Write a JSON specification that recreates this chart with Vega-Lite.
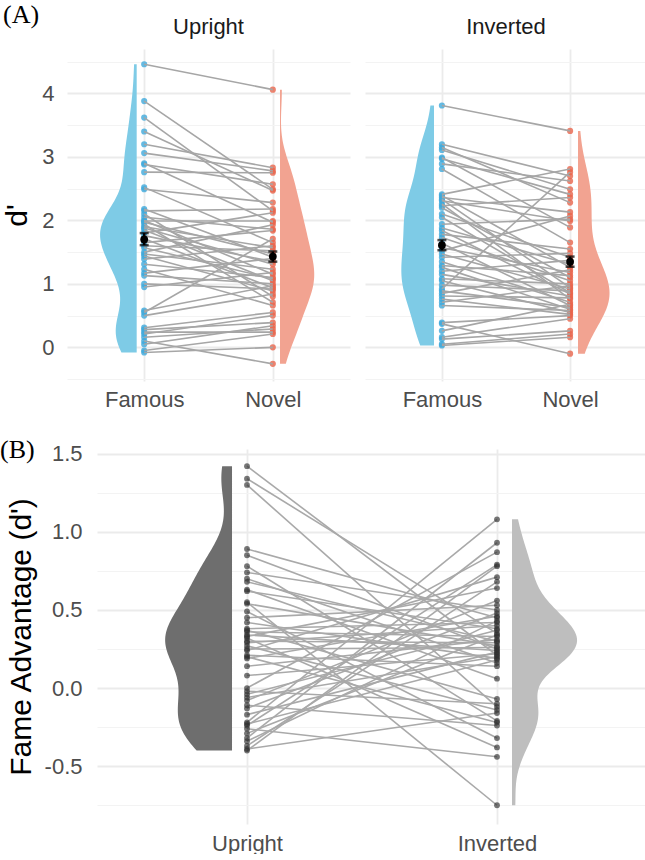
{
"$schema": "https://vega.github.io/schema/vega-lite/v6.json",
"padding": {"left": 0, "top": 2, "right": 0, "bottom": 0},
"config": {"view": {"stroke": null}, "font": "Liberation Sans", "axis": {"domain": false, "ticks": false, "tickSize": 0}},
"datasets": {
"S": [
{"o":"U","c":"Famous","m":1.70,"lo":1.61,"hi":1.80},
{"o":"U","c":"Novel","m":1.43,"lo":1.35,"hi":1.51},
{"o":"I","c":"Famous","m":1.61,"lo":1.53,"hi":1.69},
{"o":"I","c":"Novel","m":1.35,"lo":1.27,"hi":1.43}
],
"A": [
{"s":1,"o":"U","c":"Famous","v":4.46},{"s":1,"o":"U","c":"Novel","v":4.06},
{"s":2,"o":"U","c":"Famous","v":3.88},{"s":2,"o":"U","c":"Novel","v":2.49},
{"s":3,"o":"U","c":"Famous","v":3.62},{"s":3,"o":"U","c":"Novel","v":2.15},
{"s":4,"o":"U","c":"Famous","v":3.40},{"s":4,"o":"U","c":"Novel","v":2.47},
{"s":5,"o":"U","c":"Famous","v":3.20},{"s":5,"o":"U","c":"Novel","v":2.83},
{"s":6,"o":"U","c":"Famous","v":3.06},{"s":6,"o":"U","c":"Novel","v":2.78},
{"s":7,"o":"U","c":"Famous","v":2.90},{"s":7,"o":"U","c":"Novel","v":1.97},
{"s":8,"o":"U","c":"Famous","v":2.88},{"s":8,"o":"U","c":"Novel","v":2.57},
{"s":9,"o":"U","c":"Famous","v":2.76},{"s":9,"o":"U","c":"Novel","v":2.75},
{"s":10,"o":"U","c":"Famous","v":2.52},{"s":10,"o":"U","c":"Novel","v":1.65},
{"s":11,"o":"U","c":"Famous","v":2.49},{"s":11,"o":"U","c":"Novel","v":2.28},
{"s":12,"o":"U","c":"Famous","v":2.18},{"s":12,"o":"U","c":"Novel","v":1.42},
{"s":13,"o":"U","c":"Famous","v":2.15},{"s":13,"o":"U","c":"Novel","v":2.18},
{"s":14,"o":"U","c":"Famous","v":2.10},{"s":14,"o":"U","c":"Novel","v":0.80},
{"s":15,"o":"U","c":"Famous","v":2.05},{"s":15,"o":"U","c":"Novel","v":1.86},
{"s":16,"o":"U","c":"Famous","v":2.00},{"s":16,"o":"U","c":"Novel","v":1.15},
{"s":17,"o":"U","c":"Famous","v":1.99},{"s":17,"o":"U","c":"Novel","v":1.99},
{"s":18,"o":"U","c":"Famous","v":1.97},{"s":18,"o":"U","c":"Novel","v":1.47},
{"s":19,"o":"U","c":"Famous","v":1.94},{"s":19,"o":"U","c":"Novel","v":0.71},
{"s":20,"o":"U","c":"Famous","v":1.90},{"s":20,"o":"U","c":"Novel","v":1.57},
{"s":21,"o":"U","c":"Famous","v":1.88},{"s":21,"o":"U","c":"Novel","v":1.31},
{"s":22,"o":"U","c":"Famous","v":1.85},{"s":22,"o":"U","c":"Novel","v":1.05},
{"s":23,"o":"U","c":"Famous","v":1.80},{"s":23,"o":"U","c":"Novel","v":2.12},
{"s":24,"o":"U","c":"Famous","v":1.76},{"s":24,"o":"U","c":"Novel","v":1.35},
{"s":25,"o":"U","c":"Famous","v":1.71},{"s":25,"o":"U","c":"Novel","v":0.94},
{"s":26,"o":"U","c":"Famous","v":1.65},{"s":26,"o":"U","c":"Novel","v":1.84},
{"s":27,"o":"U","c":"Famous","v":1.60},{"s":27,"o":"U","c":"Novel","v":1.52},
{"s":28,"o":"U","c":"Famous","v":1.57},{"s":28,"o":"U","c":"Novel","v":1.08},
{"s":29,"o":"U","c":"Famous","v":1.50},{"s":29,"o":"U","c":"Novel","v":1.93},
{"s":30,"o":"U","c":"Famous","v":1.47},{"s":30,"o":"U","c":"Novel","v":1.23},
{"s":31,"o":"U","c":"Famous","v":1.44},{"s":31,"o":"U","c":"Novel","v":0.89},
{"s":32,"o":"U","c":"Famous","v":1.39},{"s":32,"o":"U","c":"Novel","v":1.60},
{"s":33,"o":"U","c":"Famous","v":1.31},{"s":33,"o":"U","c":"Novel","v":1.10},
{"s":34,"o":"U","c":"Famous","v":1.23},{"s":34,"o":"U","c":"Novel","v":0.66},
{"s":35,"o":"U","c":"Famous","v":1.17},{"s":35,"o":"U","c":"Novel","v":1.40},
{"s":36,"o":"U","c":"Famous","v":1.13},{"s":36,"o":"U","c":"Novel","v":1.00},
{"s":37,"o":"U","c":"Famous","v":1.00},{"s":37,"o":"U","c":"Novel","v":0.92},
{"s":38,"o":"U","c":"Famous","v":0.95},{"s":38,"o":"U","c":"Novel","v":1.18},
{"s":39,"o":"U","c":"Famous","v":0.58},{"s":39,"o":"U","c":"Novel","v":0.97},
{"s":40,"o":"U","c":"Famous","v":0.55},{"s":40,"o":"U","c":"Novel","v":1.71},
{"s":41,"o":"U","c":"Famous","v":0.50},{"s":41,"o":"U","c":"Novel","v":0.84},
{"s":42,"o":"U","c":"Famous","v":0.31},{"s":42,"o":"U","c":"Novel","v":0.55},
{"s":43,"o":"U","c":"Famous","v":0.28},{"s":43,"o":"U","c":"Novel","v":0.39},
{"s":44,"o":"U","c":"Famous","v":0.24},{"s":44,"o":"U","c":"Novel","v":0.24},
{"s":45,"o":"U","c":"Famous","v":0.21},{"s":45,"o":"U","c":"Novel","v":0.50},
{"s":46,"o":"U","c":"Famous","v":0.16},{"s":46,"o":"U","c":"Novel","v":0.29},
{"s":47,"o":"U","c":"Famous","v":0.10},{"s":47,"o":"U","c":"Novel","v":-0.26},
{"s":48,"o":"U","c":"Famous","v":0.05},{"s":48,"o":"U","c":"Novel","v":0.34},
{"s":49,"o":"U","c":"Famous","v":-0.05},{"s":49,"o":"U","c":"Novel","v":0.21},
{"s":50,"o":"U","c":"Famous","v":-0.08},{"s":50,"o":"U","c":"Novel","v":0.00},
{"s":1,"o":"I","c":"Famous","v":3.81},{"s":1,"o":"I","c":"Novel","v":3.41},
{"s":2,"o":"I","c":"Famous","v":3.20},{"s":2,"o":"I","c":"Novel","v":2.70},
{"s":3,"o":"I","c":"Famous","v":3.15},{"s":3,"o":"I","c":"Novel","v":2.28},
{"s":4,"o":"I","c":"Famous","v":3.11},{"s":4,"o":"I","c":"Novel","v":2.49},
{"s":5,"o":"I","c":"Famous","v":2.99},{"s":5,"o":"I","c":"Novel","v":1.89},
{"s":6,"o":"I","c":"Famous","v":2.97},{"s":6,"o":"I","c":"Novel","v":2.41},
{"s":7,"o":"I","c":"Famous","v":2.89},{"s":7,"o":"I","c":"Novel","v":2.62},
{"s":8,"o":"I","c":"Famous","v":2.81},{"s":8,"o":"I","c":"Novel","v":1.65},
{"s":9,"o":"I","c":"Famous","v":2.41},{"s":9,"o":"I","c":"Novel","v":2.81},
{"s":10,"o":"I","c":"Famous","v":2.39},{"s":10,"o":"I","c":"Novel","v":1.26},
{"s":11,"o":"I","c":"Famous","v":2.36},{"s":11,"o":"I","c":"Novel","v":2.13},
{"s":12,"o":"I","c":"Famous","v":2.33},{"s":12,"o":"I","c":"Novel","v":0.94},
{"s":13,"o":"I","c":"Famous","v":2.31},{"s":13,"o":"I","c":"Novel","v":1.99},
{"s":14,"o":"I","c":"Famous","v":2.26},{"s":14,"o":"I","c":"Novel","v":0.76},
{"s":15,"o":"I","c":"Famous","v":2.23},{"s":15,"o":"I","c":"Novel","v":2.36},
{"s":16,"o":"I","c":"Famous","v":2.20},{"s":16,"o":"I","c":"Novel","v":1.10},
{"s":17,"o":"I","c":"Famous","v":2.10},{"s":17,"o":"I","c":"Novel","v":1.42},
{"s":18,"o":"I","c":"Famous","v":2.05},{"s":18,"o":"I","c":"Novel","v":0.86},
{"s":19,"o":"I","c":"Famous","v":1.94},{"s":19,"o":"I","c":"Novel","v":2.02},
{"s":20,"o":"I","c":"Famous","v":1.88},{"s":20,"o":"I","c":"Novel","v":1.31},
{"s":21,"o":"I","c":"Famous","v":1.84},{"s":21,"o":"I","c":"Novel","v":0.84},
{"s":22,"o":"I","c":"Famous","v":1.78},{"s":22,"o":"I","c":"Novel","v":1.55},
{"s":23,"o":"I","c":"Famous","v":1.73},{"s":23,"o":"I","c":"Novel","v":1.05},
{"s":24,"o":"I","c":"Famous","v":1.64},{"s":24,"o":"I","c":"Novel","v":0.66},
{"s":25,"o":"I","c":"Famous","v":1.57},{"s":25,"o":"I","c":"Novel","v":1.18},
{"s":26,"o":"I","c":"Famous","v":1.52},{"s":26,"o":"I","c":"Novel","v":2.07},
{"s":27,"o":"I","c":"Famous","v":1.47},{"s":27,"o":"I","c":"Novel","v":0.92},
{"s":28,"o":"I","c":"Famous","v":1.42},{"s":28,"o":"I","c":"Novel","v":1.48},
{"s":29,"o":"I","c":"Famous","v":1.35},{"s":29,"o":"I","c":"Novel","v":0.71},
{"s":30,"o":"I","c":"Famous","v":1.29},{"s":30,"o":"I","c":"Novel","v":1.13},
{"s":31,"o":"I","c":"Famous","v":1.26},{"s":31,"o":"I","c":"Novel","v":0.60},
{"s":32,"o":"I","c":"Famous","v":1.20},{"s":32,"o":"I","c":"Novel","v":1.37},
{"s":33,"o":"I","c":"Famous","v":1.15},{"s":33,"o":"I","c":"Novel","v":0.81},
{"s":34,"o":"I","c":"Famous","v":1.08},{"s":34,"o":"I","c":"Novel","v":1.00},
{"s":35,"o":"I","c":"Famous","v":1.05},{"s":35,"o":"I","c":"Novel","v":0.55},
{"s":36,"o":"I","c":"Famous","v":0.98},{"s":36,"o":"I","c":"Novel","v":0.89},
{"s":37,"o":"I","c":"Famous","v":0.92},{"s":37,"o":"I","c":"Novel","v":2.76},
{"s":38,"o":"I","c":"Famous","v":0.89},{"s":38,"o":"I","c":"Novel","v":0.63},
{"s":39,"o":"I","c":"Famous","v":0.85},{"s":39,"o":"I","c":"Novel","v":1.22},
{"s":40,"o":"I","c":"Famous","v":0.81},{"s":40,"o":"I","c":"Novel","v":0.78},
{"s":41,"o":"I","c":"Famous","v":0.76},{"s":41,"o":"I","c":"Novel","v":0.52},
{"s":42,"o":"I","c":"Famous","v":0.71},{"s":42,"o":"I","c":"Novel","v":0.97},
{"s":43,"o":"I","c":"Famous","v":0.66},{"s":43,"o":"I","c":"Novel","v":0.58},
{"s":44,"o":"I","c":"Famous","v":0.39},{"s":44,"o":"I","c":"Novel","v":0.50},
{"s":45,"o":"I","c":"Famous","v":0.37},{"s":45,"o":"I","c":"Novel","v":-0.10},
{"s":46,"o":"I","c":"Famous","v":0.26},{"s":46,"o":"I","c":"Novel","v":0.68},
{"s":47,"o":"I","c":"Famous","v":0.16},{"s":47,"o":"I","c":"Novel","v":0.45},
{"s":48,"o":"I","c":"Famous","v":0.13},{"s":48,"o":"I","c":"Novel","v":0.26},
{"s":49,"o":"I","c":"Famous","v":0.05},{"s":49,"o":"I","c":"Novel","v":0.21},
{"s":50,"o":"I","c":"Famous","v":0.03},{"s":50,"o":"I","c":"Novel","v":0.16}
],
"B": [
{"s":1,"o":"Upright","v":1.42},{"s":1,"o":"Inverted","v":0.21},
{"s":2,"o":"Upright","v":1.34},{"s":2,"o":"Inverted","v":0.35},
{"s":3,"o":"Upright","v":1.30},{"s":3,"o":"Inverted","v":-0.12},
{"s":4,"o":"Upright","v":0.89},{"s":4,"o":"Inverted","v":0.45},
{"s":5,"o":"Upright","v":0.85},{"s":5,"o":"Inverted","v":0.25},
{"s":6,"o":"Upright","v":0.78},{"s":6,"o":"Inverted","v":-0.21},
{"s":7,"o":"Upright","v":0.74},{"s":7,"o":"Inverted","v":0.50},
{"s":8,"o":"Upright","v":0.70},{"s":8,"o":"Inverted","v":0.16},
{"s":9,"o":"Upright","v":0.68},{"s":9,"o":"Inverted","v":0.30},
{"s":10,"o":"Upright","v":0.63},{"s":10,"o":"Inverted","v":0.06},
{"s":11,"o":"Upright","v":0.62},{"s":11,"o":"Inverted","v":0.38},
{"s":12,"o":"Upright","v":0.55},{"s":12,"o":"Inverted","v":-0.75},
{"s":13,"o":"Upright","v":0.54},{"s":13,"o":"Inverted","v":0.27},
{"s":14,"o":"Upright","v":0.49},{"s":14,"o":"Inverted","v":-0.32},
{"s":15,"o":"Upright","v":0.45},{"s":15,"o":"Inverted","v":0.53},
{"s":16,"o":"Upright","v":0.42},{"s":16,"o":"Inverted","v":0.19},
{"s":17,"o":"Upright","v":0.38},{"s":17,"o":"Inverted","v":0.42},
{"s":18,"o":"Upright","v":0.37},{"s":18,"o":"Inverted","v":-0.07},
{"s":19,"o":"Upright","v":0.36},{"s":19,"o":"Inverted","v":0.33},
{"s":20,"o":"Upright","v":0.34},{"s":20,"o":"Inverted","v":0.24},
{"s":21,"o":"Upright","v":0.33},{"s":21,"o":"Inverted","v":0.64},
{"s":22,"o":"Upright","v":0.32},{"s":22,"o":"Inverted","v":-0.38},
{"s":23,"o":"Upright","v":0.30},{"s":23,"o":"Inverted","v":0.29},
{"s":24,"o":"Upright","v":0.29},{"s":24,"o":"Inverted","v":0.40},
{"s":25,"o":"Upright","v":0.27},{"s":25,"o":"Inverted","v":-0.14},
{"s":26,"o":"Upright","v":0.25},{"s":26,"o":"Inverted","v":0.26},
{"s":27,"o":"Upright","v":0.24},{"s":27,"o":"Inverted","v":0.71},
{"s":28,"o":"Upright","v":0.21},{"s":28,"o":"Inverted","v":0.14},
{"s":29,"o":"Upright","v":0.20},{"s":29,"o":"Inverted","v":-0.22},
{"s":30,"o":"Upright","v":0.19},{"s":30,"o":"Inverted","v":0.46},
{"s":31,"o":"Upright","v":0.14},{"s":31,"o":"Inverted","v":0.31},
{"s":32,"o":"Upright","v":0.08},{"s":32,"o":"Inverted","v":0.22},
{"s":33,"o":"Upright","v":0.00},{"s":33,"o":"Inverted","v":0.87},
{"s":34,"o":"Upright","v":-0.02},{"s":34,"o":"Inverted","v":-0.10},
{"s":35,"o":"Upright","v":-0.04},{"s":35,"o":"Inverted","v":0.37},
{"s":36,"o":"Upright","v":-0.06},{"s":36,"o":"Inverted","v":0.20},
{"s":37,"o":"Upright","v":-0.08},{"s":37,"o":"Inverted","v":0.56},
{"s":38,"o":"Upright","v":-0.11},{"s":38,"o":"Inverted","v":-0.24},
{"s":39,"o":"Upright","v":-0.13},{"s":39,"o":"Inverted","v":0.48},
{"s":40,"o":"Upright","v":-0.17},{"s":40,"o":"Inverted","v":0.23},
{"s":41,"o":"Upright","v":-0.22},{"s":41,"o":"Inverted","v":1.08},
{"s":42,"o":"Upright","v":-0.23},{"s":42,"o":"Inverted","v":0.18},
{"s":43,"o":"Upright","v":-0.24},{"s":43,"o":"Inverted","v":0.79},
{"s":44,"o":"Upright","v":-0.26},{"s":44,"o":"Inverted","v":-0.44},
{"s":45,"o":"Upright","v":-0.29},{"s":45,"o":"Inverted","v":0.34},
{"s":46,"o":"Upright","v":-0.32},{"s":46,"o":"Inverted","v":0.93},
{"s":47,"o":"Upright","v":-0.34},{"s":47,"o":"Inverted","v":0.43},
{"s":48,"o":"Upright","v":-0.37},{"s":48,"o":"Inverted","v":0.68},
{"s":49,"o":"Upright","v":-0.39},{"s":49,"o":"Inverted","v":-0.16},
{"s":50,"o":"Upright","v":-0.40},{"s":50,"o":"Inverted","v":0.78}
]
},
"spacing": 26,
"vconcat": [
{
"title": {"text": "(A)", "anchor": "start", "frame": "bounds", "font": "Liberation Serif", "fontSize": 26, "fontWeight": "normal", "color": "#000000", "offset": -12, "dx": 1},
"spacing": 15,
"hconcat": [
{
"width": 283, "height": 332,
"title": {"text": "Upright", "fontSize": 22, "fontWeight": "normal", "color": "#1A1A1A", "offset": 10},
"data": {"name": "A"},
"encoding": {"y": {"field": "v", "type": "quantitative", "scale": {"domain": [-0.53, 4.7], "nice": false, "zero": false},
  "axis": {"title": "d'", "titleFontSize": 30, "titleFontWeight": "normal", "titleColor": "#000000", "titlePadding": 10, "labelFontSize": 22, "labelPadding": 13, "labelColor": "#4D4D4D", "minExtent": 25, "maxExtent": 25, "values": [-0.5,0,0.5,1,1.5,2,2.5,3,3.5,4,4.5], "labelExpr": "datum.value % 1 === 0 ? format(datum.value, '.0f') : ''", "gridColor": {"condition": {"test": "datum.value % 1 !== 0", "value": "#F3F3F3"}, "value": "#EBEBEB"}, "gridWidth": {"condition": {"test": "datum.value % 1 !== 0", "value": 1}, "value": 1.8}}}},
"layer": [
{"transform": [{"filter": "datum.o === 'U' && datum.c === 'Famous'"}, {"density": "v", "bandwidth": 0.33, "steps": 120, "as": ["v", "dens"]}],
 "mark": {"type": "area", "orient": "horizontal", "color": "#7ECBE6"},
 "encoding": {"x": {"field": "dens", "type": "quantitative", "scale": {"domain": [-2.51, 0.82], "reverse": true, "nice": false, "zero": false}, "axis": null}}},
{"transform": [{"filter": "datum.o === 'U' && datum.c === 'Novel'"}, {"density": "v", "bandwidth": 0.33, "steps": 120, "as": ["v", "dens"]}],
 "mark": {"type": "area", "orient": "horizontal", "color": "#F2A391"},
 "encoding": {"x": {"field": "dens", "type": "quantitative", "scale": {"domain": [-2.80, 0.92], "nice": false, "zero": false}, "axis": null}}},
{"transform": [{"filter": "datum.o === 'U'"}],
 "encoding": {"x": {"field": "c", "type": "nominal", "scale": {"type": "point", "padding": 0.6, "domain": ["Famous", "Novel"]}, "axis": {"title": null, "grid": true, "gridColor": "#EBEBEB", "gridWidth": 1.8, "labelAngle": 0, "labelFontSize": 22, "labelColor": "#4D4D4D", "labelPadding": 8}}},
 "layer": [
  {"mark": {"type": "circle", "size": 38, "opacity": 0.8}, "encoding": {"color": {"field": "c", "type": "nominal", "scale": {"domain": ["Famous", "Novel"], "range": ["#3FA9DB", "#E8654C"]}, "legend": null}}},
  {"mark": {"type": "line", "color": "#A6A6A6", "strokeWidth": 1.6}, "encoding": {"detail": {"field": "s", "type": "nominal"}}},
  {"data": {"name": "S"}, "transform": [{"filter": "datum.o === 'U'"}], "mark": {"type": "errorbar", "color": "#000000", "thickness": 2.5, "ticks": {"size": 9, "thickness": 2.5, "color": "#000000"}},
   "encoding": {"y": {"field": "lo", "type": "quantitative", "title": "d'", "scale": {"domain": [-0.53, 4.7], "nice": false, "zero": false}}, "y2": {"field": "hi"}}},
  {"data": {"name": "S"}, "transform": [{"filter": "datum.o === 'U'"}], "mark": {"type": "point", "filled": true, "shape": "circle", "size": 60, "color": "#000000", "opacity": 1},
   "encoding": {"y": {"field": "m", "type": "quantitative", "title": "d'", "scale": {"domain": [-0.53, 4.7], "nice": false, "zero": false}}}}
 ]}
],
"resolve": {"scale": {"x": "independent"}}
},
{
"width": 282, "height": 332,
"title": {"text": "Inverted", "fontSize": 22, "fontWeight": "normal", "color": "#1A1A1A", "offset": 10},
"data": {"name": "A"},
"encoding": {"y": {"field": "v", "type": "quantitative", "scale": {"domain": [-0.53, 4.7], "nice": false, "zero": false},
  "axis": {"title": null, "labels": false, "labelPadding": 0, "minExtent": 0, "maxExtent": 0, "values": [-0.5,0,0.5,1,1.5,2,2.5,3,3.5,4,4.5], "gridColor": {"condition": {"test": "datum.value % 1 !== 0", "value": "#F3F3F3"}, "value": "#EBEBEB"}, "gridWidth": {"condition": {"test": "datum.value % 1 !== 0", "value": 1}, "value": 1.8}}}},
"layer": [
{"transform": [{"filter": "datum.o === 'I' && datum.c === 'Famous'"}, {"density": "v", "bandwidth": 0.36, "steps": 120, "as": ["v", "dens"]}],
 "mark": {"type": "area", "orient": "horizontal", "color": "#7ECBE6"},
 "encoding": {"x": {"field": "dens", "type": "quantitative", "scale": {"domain": [-2.34, 0.758], "reverse": true, "nice": false, "zero": false}, "axis": null}}},
{"transform": [{"filter": "datum.o === 'I' && datum.c === 'Novel'"}, {"density": "v", "bandwidth": 0.36, "steps": 120, "as": ["v", "dens"]}],
 "mark": {"type": "area", "orient": "horizontal", "color": "#F2A391"},
 "encoding": {"x": {"field": "dens", "type": "quantitative", "scale": {"domain": [-3.55, 1.15], "nice": false, "zero": false}, "axis": null}}},
{"transform": [{"filter": "datum.o === 'I'"}],
 "encoding": {"x": {"field": "c", "type": "nominal", "scale": {"type": "point", "padding": 0.6, "domain": ["Famous", "Novel"]}, "axis": {"title": null, "grid": true, "gridColor": "#EBEBEB", "gridWidth": 1.8, "labelAngle": 0, "labelFontSize": 22, "labelColor": "#4D4D4D", "labelPadding": 8}}},
 "layer": [
  {"mark": {"type": "circle", "size": 38, "opacity": 0.8}, "encoding": {"color": {"field": "c", "type": "nominal", "scale": {"domain": ["Famous", "Novel"], "range": ["#3FA9DB", "#E8654C"]}, "legend": null}}},
  {"mark": {"type": "line", "color": "#A6A6A6", "strokeWidth": 1.6}, "encoding": {"detail": {"field": "s", "type": "nominal"}}},
  {"data": {"name": "S"}, "transform": [{"filter": "datum.o === 'I'"}], "mark": {"type": "errorbar", "color": "#000000", "thickness": 2.5, "ticks": {"size": 9, "thickness": 2.5, "color": "#000000"}},
   "encoding": {"y": {"field": "lo", "type": "quantitative", "title": null, "scale": {"domain": [-0.53, 4.7], "nice": false, "zero": false}}, "y2": {"field": "hi"}}},
  {"data": {"name": "S"}, "transform": [{"filter": "datum.o === 'I'"}], "mark": {"type": "point", "filled": true, "shape": "circle", "size": 60, "color": "#000000", "opacity": 1},
   "encoding": {"y": {"field": "m", "type": "quantitative", "title": null, "scale": {"domain": [-0.53, 4.7], "nice": false, "zero": false}}}}
 ]}
],
"resolve": {"scale": {"x": "independent"}}
}
]
},
{
"width": 580, "height": 375,
"title": {"text": "(B)", "anchor": "start", "frame": "bounds", "font": "Liberation Serif", "fontSize": 26, "fontWeight": "normal", "color": "#000000", "offset": -20, "dx": -6},
"data": {"name": "B"},
"encoding": {"y": {"field": "v", "type": "quantitative", "scale": {"domain": [-0.87, 1.53], "nice": false, "zero": false},
  "axis": {"offset": -30, "title": "Fame Advantage (d')", "titleFontSize": 30, "titleFontWeight": "normal", "titleColor": "#000000", "titlePadding": 5, "labelFontSize": 22, "labelPadding": 15, "labelColor": "#4D4D4D", "minExtent": 56, "maxExtent": 56, "values": [-0.75,-0.5,-0.25,0,0.25,0.5,0.75,1,1.25,1.5], "labelExpr": "datum.value % 0.5 === 0 ? replace(format(datum.value, '.1f'), '\u2212', '-') : ''", "gridColor": {"condition": {"test": "datum.value % 0.5 !== 0", "value": "#F3F3F3"}, "value": "#EBEBEB"}, "gridWidth": {"condition": {"test": "datum.value % 0.5 !== 0", "value": 1}, "value": 1.8}}}},
"layer": [
{"transform": [{"filter": "datum.o === 'Upright'"}, {"density": "v", "bandwidth": 0.17, "steps": 120, "as": ["v", "dens"]}],
 "mark": {"type": "area", "orient": "horizontal", "color": "#6E6E6E"},
 "encoding": {"x": {"field": "dens", "type": "quantitative", "scale": {"domain": [-5.32, 1.731], "range": [30, 580], "reverse": true, "nice": false, "zero": false}, "axis": null}}},
{"transform": [{"filter": "datum.o === 'Inverted'"}, {"density": "v", "bandwidth": 0.13, "steps": 120, "as": ["v", "dens"]}],
 "mark": {"type": "area", "orient": "horizontal", "color": "#BEBEBE"},
 "encoding": {"x": {"field": "dens", "type": "quantitative", "scale": {"domain": [-8.30, 2.70], "range": [30, 580], "nice": false, "zero": false}, "axis": null}}},
{"encoding": {"x": {"field": "o", "type": "nominal", "scale": {"type": "point", "padding": 0.6, "domain": ["Upright", "Inverted"], "range": [30, 580]}, "axis": {"title": null, "grid": true, "gridColor": "#EBEBEB", "gridWidth": 1.8, "labelAngle": 0, "labelFontSize": 22, "labelColor": "#4D4D4D", "labelPadding": 9}}},
 "layer": [
  {"mark": {"type": "line", "color": "#A9A9A9", "strokeWidth": 1.6}, "encoding": {"detail": {"field": "s", "type": "nominal"}}},
  {"mark": {"type": "circle", "size": 34, "opacity": 0.65, "color": "#2E2E2E"}}
 ]}
],
"resolve": {"scale": {"x": "independent"}}
}
]
}
